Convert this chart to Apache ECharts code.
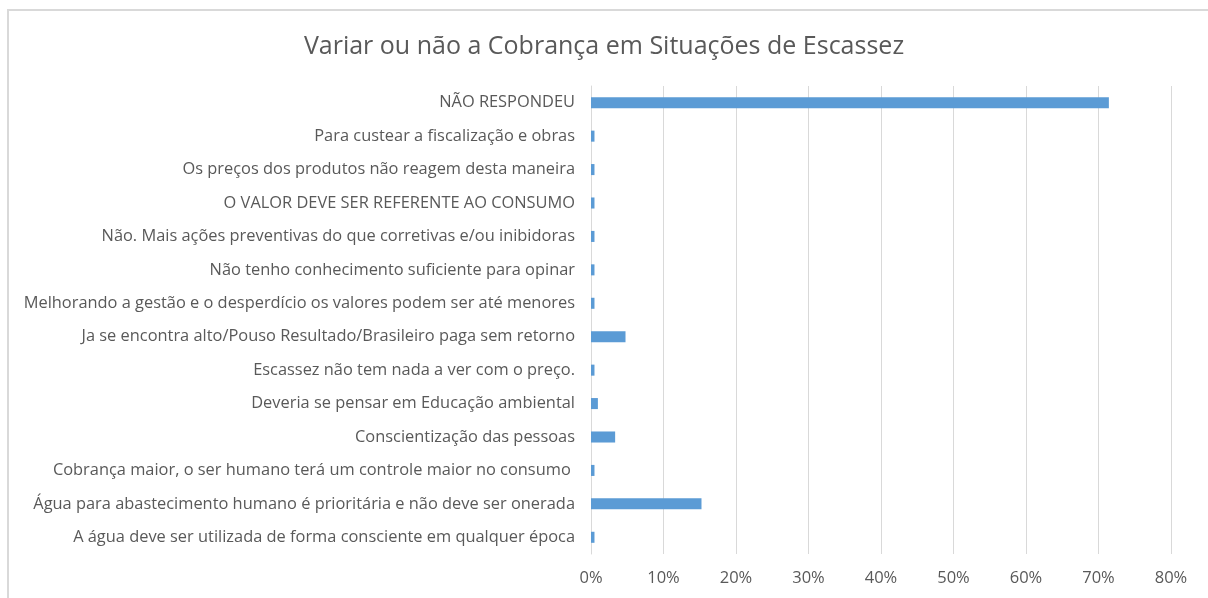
<!DOCTYPE html>
<html lang="pt">
<head>
    <meta charset="UTF-8">
    <title>Variar ou não a Cobrança em Situações de Escassez</title>
    <script src="https://cdn.jsdelivr.net/npm/echarts@6/dist/echarts.min.js"></script>
    <style>
        * {
            margin: 0;
            padding: 0;
            box-sizing: border-box;
        }

        body {
            background: #fff;
            width: 1208px;
            height: 598px;
            overflow: hidden;
            position: relative;
        }

        #frame {
            position: absolute;
            left: 7px;
            top: 9px;
            width: 1210px;
            height: 600px;
            border: 2px solid #D9D9D9;
        }

        #chart {
            position: absolute;
            left: 0;
            top: 0;
            width: 1208px;
            height: 598px;
        }
    </style>
</head>
<body>
    <div id="frame"></div>
    <div id="chart"></div>

    <script>
        // categorias (de baixo para cima, como o eixo as desenha)
        const categories = [
            'A água deve ser utilizada de forma consciente em qualquer época',
            'Água para abastecimento humano é prioritária e não deve ser onerada',
            'Cobrança maior, o ser humano terá um controle maior no consumo ',
            'Conscientização das pessoas',
            'Deveria se pensar em Educação ambiental',
            'Escassez não tem nada a ver com o preço.',
            'Ja se encontra alto/Pouso Resultado/Brasileiro paga sem retorno',
            'Melhorando a gestão e o desperdício os valores podem ser até menores',
            'Não tenho conhecimento suficiente para opinar',
            'Não. Mais ações preventivas do que corretivas e/ou inibidoras',
            'O VALOR DEVE SER REFERENTE AO CONSUMO',
            'Os preços dos produtos não reagem desta maneira',
            'Para custear a fiscalização e obras',
            'NÃO RESPONDEU'
        ];

        // percentuais de respostas
        const percentValues = [0.48, 15.24, 0.48, 3.33, 0.95, 0.48, 4.76, 0.48, 0.48, 0.48, 0.48, 0.48, 0.48, 71.43];

        const axisMax = 80;
        const axisStep = 10;

        const chart = echarts.init(document.getElementById('chart'));
        chart.setOption({
            animation: false,
            title: {
                text: 'Variar ou não a Cobrança em Situações de Escassez',
                left: 'center',
                top: 29,
                textStyle: {
                    fontFamily: 'Open Sans',
                    fontSize: 25,
                    fontWeight: 'normal',
                    color: '#595959'
                }
            },
            grid: {
                left: 591,
                right: 37,
                top: 86,
                bottom: 44
            },
            xAxis: {
                type: 'value',
                min: 0,
                max: axisMax,
                interval: axisStep,
                axisLine: { show: false },
                axisTick: { show: false },
                splitLine: {
                    lineStyle: { color: '#D9D9D9', width: 1 }
                },
                axisLabel: {
                    formatter: '{value}%',
                    margin: 16,
                    fontFamily: 'Open Sans',
                    fontSize: 16.5,
                    color: '#595959'
                }
            },
            yAxis: {
                type: 'category',
                data: categories,
                axisTick: { show: false },
                axisLine: {
                    lineStyle: { color: '#D9D9D9', width: 1 }
                },
                axisLabel: {
                    margin: 16,
                    fontFamily: 'Open Sans',
                    fontSize: 16.4,
                    color: '#595959'
                }
            },
            series: [
                {
                    type: 'bar',
                    data: percentValues,
                    barWidth: '33%',
                    itemStyle: { color: '#5B9BD5' }
                }
            ]
        });
    </script>
</body>
</html>
